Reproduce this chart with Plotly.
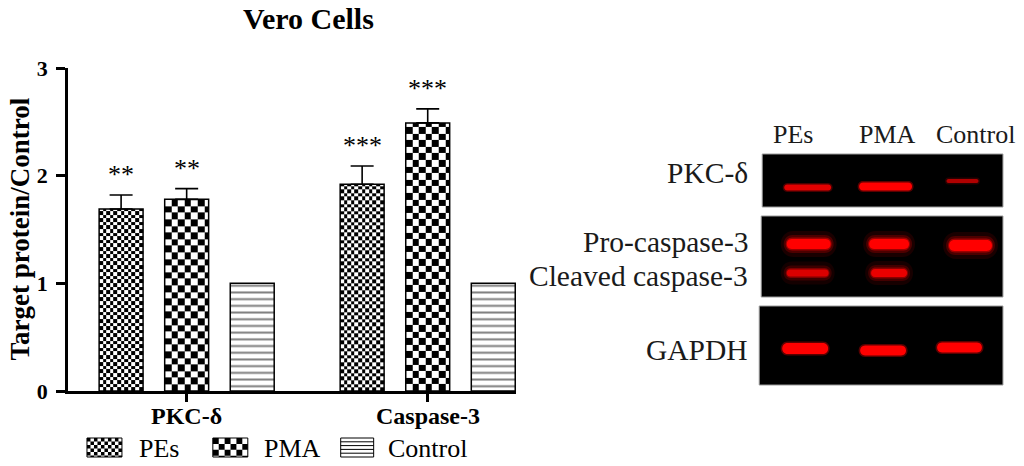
import numpy as np
import plotly.graph_objects as go

# ---------------- data ----------------
title_text = "Vero Cells"
groups = ["PKC-δ", "Caspase-3"]
series = ["PEs", "PMA", "Control"]
pes_vals = [1.69, 1.92]
pes_err = [0.13, 0.17]
pma_vals = [1.78, 2.49]
pma_err = [0.10, 0.13]
ctrl_vals = [1.0, 1.0]
pes_stars = ["**", "***"]
pma_stars = ["**", "***"]
y_ticks = [0, 1, 2, 3]
y_title = "Target protein/Control"

blot_lanes = ["PEs", "PMA", "Control"]
blot_rows = ["PKC-δ", "Pro-caspase-3", "Cleaved caspase-3", "GAPDH"]
# band intensity per lane (0 = none)
pkc_band = [0.8, 1.0, 0.45]
procasp_band = [1.0, 1.0, 1.0]
cleaved_band = [0.75, 0.85, 0.0]
gapdh_band = [1.0, 1.0, 1.0]

# ---------------- layout geometry (pixels) ----------------
W, H = 1024, 466
L, R, T, B = 68, 516.5, 68, 391
XR = [-0.4923, 1.3663]
YR = [0, 3]
PXX = (R - L) / (XR[1] - XR[0])
PXY = (B - T) / (YR[1] - YR[0])
offsets = [-0.272, 0.0, 0.272]
bw = 0.1823
FONT = "Liberation Serif"


def px_x(px):
    return (px - L) / (R - L)


def px_y(py):
    return (B - py) / (B - T)


fig = go.Figure()


def checker(xc, top, cw_px, ch_px):
    x0, x1 = xc - bw / 2, xc + bw / 2
    cw, ch = cw_px / PXX, ch_px / PXY
    xe = list(np.arange(x0, x1 - cw * 0.3, cw)) + [x1]
    ye = list(np.arange(0, top - ch * 0.3, ch)) + [top]
    z = [[(i + j) % 2 for j in range(len(xe) - 1)] for i in range(len(ye) - 1)]
    return go.Heatmap(x=xe, y=ye, z=z, zmin=0, zmax=1,
                      colorscale=[[0, "white"], [1, "black"]],
                      showscale=False, hoverinfo="skip", zsmooth=False)


for g in range(len(groups)):
    fig.add_trace(checker(g + offsets[0], pes_vals[g], 3.6, 3.6))
    fig.add_trace(checker(g + offsets[1], pma_vals[g], 6.6, 6.6))

line = dict(color="black", width=1.5)
fig.add_trace(go.Bar(
    name=series[0], x=[g + offsets[0] for g in range(len(groups))], y=pes_vals,
    width=bw, marker=dict(color="rgba(0,0,0,0)", line=line),
    error_y=dict(type="data", symmetric=False, array=pes_err, arrayminus=[0] * len(pes_err),
                 color="black", thickness=1.6, width=11.5),
    showlegend=False, hoverinfo="skip"))
fig.add_trace(go.Bar(
    name=series[1], x=[g + offsets[1] for g in range(len(groups))], y=pma_vals,
    width=bw, marker=dict(color="rgba(0,0,0,0)", line=line),
    error_y=dict(type="data", symmetric=False, array=pma_err, arrayminus=[0] * len(pma_err),
                 color="black", thickness=1.6, width=11.5),
    showlegend=False, hoverinfo="skip"))
fig.add_trace(go.Bar(
    name=series[2], x=[g + offsets[2] for g in range(len(groups))], y=ctrl_vals,
    width=bw, marker=dict(color="white", line=line,
                          pattern=dict(shape="-", fgcolor="black", bgcolor="white",
                                       size=6.7, solidity=0.3)),
    showlegend=False, hoverinfo="skip"))

annotations = []
# stars
for g in range(len(groups)):
    for off, v, e, s in [(offsets[0], pes_vals[g], pes_err[g], pes_stars[g]),
                         (offsets[1], pma_vals[g], pma_err[g], pma_stars[g])]:
        annotations.append(dict(x=g + off, y=v + e, xref="x", yref="y", text=s,
                                showarrow=False, yanchor="bottom", xanchor="center", yshift=4,
                                font=dict(family=FONT, size=26, color="black")))
# group labels
for g, name in enumerate(groups):
    annotations.append(dict(x=g, y=px_y(416), xref="x", yref="paper", text=name,
                            showarrow=False, xanchor="center", yanchor="middle",
                            font=dict(family=FONT, size=24, color="black", weight="bold")))
# title and y title
annotations.append(dict(x=px_x(309), y=px_y(18), xref="paper", yref="paper", text=title_text,
                        showarrow=False, xanchor="center", yanchor="middle",
                        font=dict(family=FONT, size=30, color="black", weight="bold")))
annotations.append(dict(x=px_x(19), y=px_y(229.5), xref="paper", yref="paper", text=y_title,
                        textangle=-90, showarrow=False, xanchor="center", yanchor="middle",
                        font=dict(family=FONT, size=27, color="black", weight="bold")))

shapes = []


def rect_path(x0, y0, x1, y1):
    return "M{:.5f},{:.5f}H{:.5f}V{:.5f}H{:.5f}Z".format(px_x(x0), px_y(y0), px_x(x1), px_y(y1), px_x(x0))


def checker_swatch(x0, y0, x1, y1, c):
    parts = []
    nx = int(np.ceil((x1 - x0) / c))
    ny = int(np.ceil((y1 - y0) / c))
    for i in range(ny):
        for j in range(nx):
            if (i + j) % 2 == 0:
                a, b = x0 + j * c, y0 + i * c
                parts.append(rect_path(a, b, min(a + c, x1), min(b + c, y1)))
    shapes.append(dict(type="path", xref="paper", yref="paper", path="".join(parts),
                       fillcolor="black", line=dict(width=0)))
    shapes.append(dict(type="rect", xref="paper", yref="paper", x0=px_x(x0), x1=px_x(x1),
                       y0=px_y(y0), y1=px_y(y1), line=dict(color="black", width=1)))


# legend
sw_y0, sw_y1 = 438, 457
checker_swatch(87, sw_y0, 122, sw_y1, 3.5)
checker_swatch(213, sw_y0, 248, sw_y1, 5.9)
lines = "".join("M{:.5f},{:.5f}H{:.5f}".format(px_x(341), px_y(yy), px_x(374))
                for yy in np.arange(sw_y0 + 3.8, sw_y1 - 1, 3.8))
shapes.append(dict(type="path", xref="paper", yref="paper", path=lines,
                   line=dict(color="black", width=1)))
shapes.append(dict(type="rect", xref="paper", yref="paper", x0=px_x(341), x1=px_x(374),
                   y0=px_y(sw_y0), y1=px_y(sw_y1), line=dict(color="black", width=1)))
for name, xl in zip(series, [137, 262, 386]):
    annotations.append(dict(x=px_x(xl), y=px_y(448), xref="paper", yref="paper", text=name,
                            showarrow=False, xanchor="left", yanchor="middle",
                            font=dict(family=FONT, size=26, color="black")))

# ---------------- western blot panel ----------------
panels = [(763, 154, 1004, 207), (762, 216, 1004, 297), (760, 306, 1004, 385)]
for (x0, y0, x1, y1) in panels:
    shapes.append(dict(type="rect", xref="paper", yref="paper", x0=px_x(x0), x1=px_x(x1),
                       y0=px_y(y0), y1=px_y(y1), fillcolor="black",
                       line=dict(color="#9a9a9a", width=1)))


def stadium(xc, yc, w, h):
    x0, x1 = xc - w / 2, xc + w / 2
    y0, y1 = yc - h / 2, yc + h / 2
    r = h / 2
    k = 1.33 * r
    pts = "M{},{} L{},{} C{},{} {},{} {},{} L{},{} C{},{} {},{} {},{} Z"
    vals = [px_x(x0 + r), px_y(y0), px_x(x1 - r), px_y(y0),
            px_x(x1 - r + k), px_y(y0), px_x(x1 - r + k), px_y(y1), px_x(x1 - r), px_y(y1),
            px_x(x0 + r), px_y(y1),
            px_x(x0 + r - k), px_y(y1), px_x(x0 + r - k), px_y(y0), px_x(x0 + r), px_y(y0)]
    return pts.format(*["{:.5f}".format(v) for v in vals])


def band(xc, yc, w, h, inten, glow):
    if inten <= 0:
        return
    if glow:
        for dw, dh, a in [(12, 16, 0.10), (6, 8, 0.22), (2, 3, 0.45)]:
            shapes.append(dict(type="path", xref="paper", yref="paper", path=stadium(xc, yc, w + dw, h + dh),
                               fillcolor="rgba(255,0,0,{:.2f})".format(a * inten), line=dict(width=0)))
    else:
        shapes.append(dict(type="path", xref="paper", yref="paper", path=stadium(xc, yc, w + 3, h + 3),
                           fillcolor="rgba(255,0,0,{:.2f})".format(0.35 * inten), line=dict(width=0)))
    rc = int(110 + 145 * inten)
    shapes.append(dict(type="path", xref="paper", yref="paper", path=stadium(xc, yc, w, h),
                       fillcolor="rgb({},0,0)".format(rc), line=dict(width=0)))


lane_x = [[808.5, 886.5, 963.5], [809.5, 890, 971.5], [808.5, 890, 971.5], [806, 884, 960.5]]
lane_w = [[47, 53, 32], [44, 40, 43], [42, 36, 40], [46, 46, 45]]
row_y = [[187.5, 186.5, 181], [244, 244, 245.5], [273, 273, 273], [348.5, 350.5, 347.5]]
row_h = [[6, 8, 4], [10, 10, 11], [7, 8, 8], [11, 10, 10]]
row_glow = [False, True, True, False]
for r_i, inten in enumerate([pkc_band, procasp_band, cleaved_band, gapdh_band]):
    for l_i in range(3):
        band(lane_x[r_i][l_i], row_y[r_i][l_i], lane_w[r_i][l_i], row_h[r_i][l_i], inten[l_i], row_glow[r_i])

for name, xc in zip(blot_lanes, [794, 888, 977]):
    annotations.append(dict(x=px_x(xc), y=px_y(134), xref="paper", yref="paper", text=name,
                            showarrow=False, xanchor="center", yanchor="middle",
                            font=dict(family=FONT, size=26, color="#1a1a1a")))
for name, yc in zip(blot_rows, [173, 242, 276, 350]):
    annotations.append(dict(x=px_x(751), y=px_y(yc), xref="paper", yref="paper", text=name,
                            showarrow=False, xanchor="right", yanchor="middle",
                            font=dict(family=FONT, size=29.5, color="#1a1a1a")))

fig.update_layout(
    width=W, height=H, autosize=False,
    margin=dict(l=L, r=W - R, t=T, b=H - B, pad=0),
    paper_bgcolor="white", plot_bgcolor="white",
    barmode="overlay", showlegend=False,
    annotations=annotations, shapes=shapes,
    xaxis=dict(range=XR, showgrid=False, zeroline=False, showline=True, linecolor="black",
               linewidth=2.5, ticks="outside", ticklen=8, tickwidth=2.5, tickcolor="black",
               tickvals=[0, 1], showticklabels=False, fixedrange=True),
    yaxis=dict(range=YR, showgrid=False, zeroline=False, showline=True, linecolor="black",
               linewidth=2.5, ticks="outside", ticklen=9, tickwidth=2.5, tickcolor="black",
               tickvals=y_ticks, ticklabelstandoff=4,
               tickfont=dict(family=FONT, size=22, color="black", weight="bold"), fixedrange=True),
)

fig.write_html("out.html", config={"displayModeBar": False},
               post_script="document.body.style.margin='0px';")
